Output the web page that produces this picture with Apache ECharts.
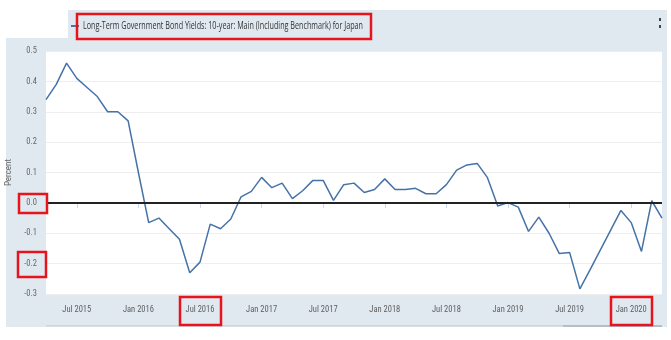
<!DOCTYPE html>
<html>
<head>
<meta charset="utf-8">
<script src="https://cdn.jsdelivr.net/npm/echarts@6/dist/echarts.min.js"></script>
<style>
  html, body { margin: 0; padding: 0; background: #fff; }
  #chart { width: 671px; height: 340px; }
</style>
</head>
<body>
<div id="chart"></div>
<script>
// Monthly observations, Apr 2015 – Apr 2020
const months = [
  'Apr 2015','May 2015','Jun 2015','Jul 2015','Aug 2015','Sep 2015','Oct 2015','Nov 2015','Dec 2015',
  'Jan 2016','Feb 2016','Mar 2016','Apr 2016','May 2016','Jun 2016','Jul 2016','Aug 2016','Sep 2016','Oct 2016','Nov 2016','Dec 2016',
  'Jan 2017','Feb 2017','Mar 2017','Apr 2017','May 2017','Jun 2017','Jul 2017','Aug 2017','Sep 2017','Oct 2017','Nov 2017','Dec 2017',
  'Jan 2018','Feb 2018','Mar 2018','Apr 2018','May 2018','Jun 2018','Jul 2018','Aug 2018','Sep 2018','Oct 2018','Nov 2018','Dec 2018',
  'Jan 2019','Feb 2019','Mar 2019','Apr 2019','May 2019','Jun 2019','Jul 2019','Aug 2019','Sep 2019','Oct 2019','Nov 2019','Dec 2019',
  'Jan 2020','Feb 2020','Mar 2020','Apr 2020'
];

// 10-year government bond yield, percent
const yields = [
  0.34, 0.39, 0.46, 0.41, 0.38, 0.35, 0.30, 0.30, 0.27,
  0.10, -0.065, -0.05, -0.085, -0.12, -0.23, -0.195, -0.07, -0.085, -0.053, 0.02, 0.038,
  0.084, 0.05, 0.065, 0.014, 0.04, 0.074, 0.074, 0.008, 0.06, 0.065, 0.034, 0.044,
  0.079, 0.044, 0.044, 0.048, 0.03, 0.03, 0.06, 0.108, 0.125, 0.13, 0.083, -0.01,
  0.001, -0.014, -0.094, -0.047, -0.10, -0.167, -0.163, -0.283, -0.22, -0.155, -0.09, -0.025,
  -0.065, -0.16, 0.007, -0.05
];

// Labelled months on the time axis
const xTickLabels = [
  'Jul 2015','Jan 2016','Jul 2016','Jan 2017','Jul 2017',
  'Jan 2018','Jul 2018','Jan 2019','Jul 2019','Jan 2020'
];

const seriesName = 'Long-Term Government Bond Yields: 10-year: Main (Including Benchmark) for Japan';
const yMin = -0.3, yMax = 0.5, yStep = 0.1;

const narrow = "'Roboto Condensed', 'Liberation Sans Narrow', 'DejaVu Sans Condensed', sans-serif";
const titleFont = "'Open Sans', 'Noto Sans', sans-serif";
const panel = '#e1e9f0';
const red = '#e8141c';

const showTick = (idx) => xTickLabels.indexOf(months[idx]) !== -1;

// The legend caption is set in a condensed cut: squeeze the text to a fixed run length
const captionSize = 10.5, captionWidth = 280;
const measure = document.createElement('canvas').getContext('2d');
measure.font = captionSize + 'px ' + titleFont;
const captionScale = captionWidth / measure.measureText(seriesName).width;

const chart = echarts.init(document.getElementById('chart'), null, { renderer: 'canvas' });

chart.setOption({
  backgroundColor: '#ffffff',
  animation: false,
  grid: {
    left: 46, right: 9, top: 51, bottom: 46,
    outerBoundsMode: 'none',
    containLabel: false,
    show: true, backgroundColor: '#ffffff', borderWidth: 0
  },
  legend: {
    left: 66, top: 20,
    icon: 'rect', itemWidth: 8, itemHeight: 2,
    formatter: () => '',
    textStyle: { fontSize: 10 },
    data: [seriesName]
  },
  xAxis: {
    type: 'category',
    data: months,
    boundaryGap: false,
    axisLine: { show: false },
    axisTick: { show: true, interval: showTick, length: 5, lineStyle: { color: '#ccd6eb' } },
    axisLabel: {
      interval: showTick, margin: 11,
      fontFamily: narrow, fontSize: 8.5, color: '#606060'
    },
    splitLine: { show: false }
  },
  yAxis: {
    type: 'value',
    min: yMin, max: yMax, interval: yStep,
    name: 'Percent', nameLocation: 'middle', nameGap: 31,
    nameTextStyle: { fontFamily: narrow, fontSize: 9, color: '#666' },
    axisLine: { show: false },
    axisTick: { show: false },
    axisLabel: {
      margin: 9, fontFamily: narrow, fontSize: 8.5, color: '#666',
      formatter: v => v.toFixed(1)
    },
    splitLine: { lineStyle: { color: '#eeeeee', width: 1 } }
  },
  series: [{
    name: seriesName,
    type: 'line',
    data: yields,
    showSymbol: false,
    lineStyle: { color: '#4572a7', width: 1.5 },
    itemStyle: { color: '#4572a7' },
    markLine: {
      silent: true, symbol: 'none',
      label: { show: false },
      lineStyle: { color: '#222', width: 2, type: 'solid' },
      data: [{ yAxis: 0 }]
    },
    z: 3
  }],
  graphic: [
    // panel behind the chart and the legend band
    { type: 'rect', z: -100, shape: { x: 68, y: 10, width: 599, height: 29 }, style: { fill: panel } },
    { type: 'rect', z: -100, shape: { x: 6, y: 38, width: 661, height: 289 }, style: { fill: panel } },
    // navigator track along the bottom
    { type: 'rect', z: -90, shape: { x: 46, y: 325, width: 616, height: 1.5 }, style: { fill: '#cdd5de' } },
    { type: 'rect', z: -90, shape: { x: 563, y: 325, width: 99, height: 2 }, style: { fill: '#b4bdc8' } },
    // legend caption
    {
      type: 'text', z: 10, x: 83, y: 26, scaleX: captionScale, originX: 0, originY: 0,
      style: {
        text: seriesName, fill: '#333',
        fontSize: captionSize, fontFamily: titleFont,
        align: 'left', verticalAlign: 'middle'
      }
    },
    // menu glyph, top right
    { type: 'rect', z: 10, shape: { x: 659, y: 18, width: 2, height: 3 }, style: { fill: '#444' } },
    { type: 'rect', z: 10, shape: { x: 659, y: 25, width: 2, height: 3 }, style: { fill: '#444' } },
    // highlight boxes
    { type: 'rect', z: 20, shape: { x: 77, y: 14, width: 294, height: 25 }, style: { fill: 'none', stroke: red, lineWidth: 2.5 } },
    { type: 'rect', z: 20, shape: { x: 19, y: 194, width: 28, height: 19 }, style: { fill: 'none', stroke: red, lineWidth: 2.5 } },
    { type: 'rect', z: 20, shape: { x: 18, y: 252, width: 28, height: 25 }, style: { fill: 'none', stroke: red, lineWidth: 2.5 } },
    { type: 'rect', z: 20, shape: { x: 180, y: 297, width: 41, height: 28 }, style: { fill: 'none', stroke: red, lineWidth: 2.5 } },
    { type: 'rect', z: 20, shape: { x: 611, y: 297, width: 41, height: 28 }, style: { fill: 'none', stroke: red, lineWidth: 2.5 } }
  ]
});
</script>
</body>
</html>
